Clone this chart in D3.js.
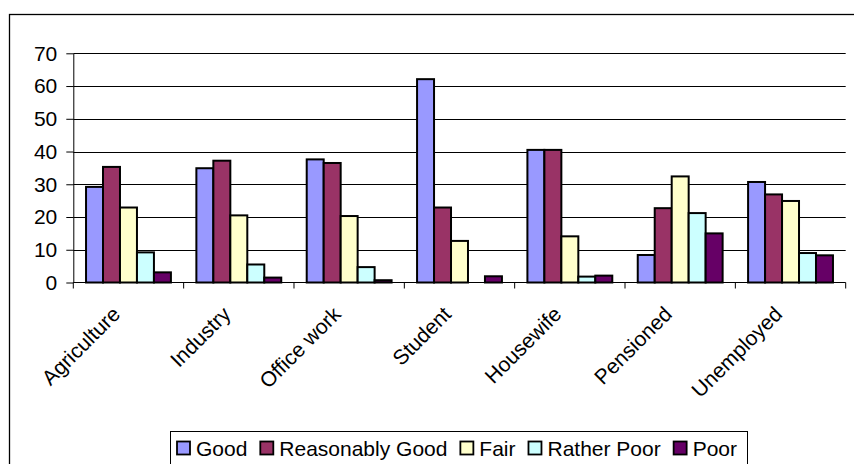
<!DOCTYPE html>
<html>
<head>
<meta charset="utf-8">
<script src="https://cdn.jsdelivr.net/npm/d3@7"></script>
<style>
  html, body { margin: 0; padding: 0; background: #fff; }
  svg { display: block; }
  text { font-family: "Liberation Sans", Arial, sans-serif; fill: #000; }
</style>
</head>
<body>
<svg id="chart" width="854" height="464"></svg>
<script>
// Self-rated condition by occupation (%)
const categories = ["Agriculture", "Industry", "Office work", "Student", "Housewife", "Pensioned", "Unemployed"];
const seriesNames = ["Good", "Reasonably Good", "Fair", "Rather Poor", "Poor"];
const good           = [29.2, 34.9, 37.6, 62.1, 40.5,  8.4, 30.7];
const reasonablyGood = [35.3, 37.2, 36.5, 22.9, 40.5, 22.7, 26.9];
const fair           = [22.9, 20.5, 20.3, 12.7, 14.1, 32.4, 24.9];
const ratherPoor     = [ 9.2,  5.5,  4.7,  0.0,  1.8, 21.2,  9.0];
const poor           = [ 3.1,  1.5,  0.7,  1.9,  2.1, 15.0,  8.3];
const yTicks = [0, 10, 20, 30, 40, 50, 60, 70];

const seriesValues = [good, reasonablyGood, fair, ratherPoor, poor];
const colors = ["#9999FF", "#993366", "#FFFFCC", "#CCFFFF", "#660066"];

const svg = d3.select("#chart");
const FONT = 21;

// outer chart frame
svg.append("rect")
  .attr("x", 9.5).attr("y", 14.5)
  .attr("width", 860).attr("height", 470)
  .attr("fill", "none").attr("stroke", "#000").attr("stroke-width", 1.3);

const plot = { left: 73.3, right: 845.7, top: 53.3, bottom: 282.5 };

const x = d3.scaleBand().domain(categories).range([plot.left, plot.right]).padding(0);
const bw = x.bandwidth() / (seriesNames.length + 1.5);
const xs = d3.scaleBand().domain(seriesNames)
  .range([bw * 0.75, bw * 0.75 + bw * seriesNames.length]).padding(0);
const y = d3.scaleLinear().domain([0, 70]).range([plot.bottom, plot.top]);

// horizontal gridlines
svg.append("g").selectAll("line").data(yTicks.filter(d => d > 0)).join("line")
  .attr("x1", plot.left).attr("x2", plot.right)
  .attr("y1", d => Math.round(y(d)) + 0.5).attr("y2", d => Math.round(y(d)) + 0.5)
  .attr("stroke", "#000").attr("stroke-width", 1);

// y axis
const yAxis = svg.append("g")
  .attr("transform", `translate(${plot.left},0)`)
  .call(d3.axisLeft(y).tickValues(yTicks).tickSize(7).tickPadding(9).tickSizeOuter(0));
yAxis.select(".domain").attr("stroke", "#000").attr("stroke-width", 1);
yAxis.selectAll(".tick line").attr("stroke", "#000");
yAxis.selectAll(".tick text")
  .style("font-family", '"Liberation Sans", Arial, sans-serif')
  .style("font-size", FONT + "px").attr("fill", "#000");

// bars
const groups = svg.append("g").selectAll("g").data(categories).join("g")
  .attr("transform", c => `translate(${x(c)},0)`);
groups.selectAll("rect")
  .data((c, i) => seriesNames.map((s, j) => ({ s, j, v: seriesValues[j][i] })).filter(d => d.v > 0))
  .join("rect")
  .attr("x", d => xs(d.s))
  .attr("width", xs.bandwidth())
  .attr("y", d => y(d.v))
  .attr("height", d => y(0) - y(d.v))
  .attr("fill", d => colors[d.j])
  .attr("stroke", "#000").attr("stroke-width", 2);

// x axis with ticks between categories
const xAxisG = svg.append("g").attr("transform", `translate(0,${plot.bottom})`);
xAxisG.append("line")
  .attr("x1", plot.left).attr("x2", plot.right)
  .attr("stroke", "#000").attr("stroke-width", 1);
const boundaries = categories.map(c => x(c)).concat([plot.right]);
xAxisG.selectAll("line.tk").data(boundaries).join("line").attr("class", "tk")
  .attr("x1", d => d).attr("x2", d => d).attr("y1", 0).attr("y2", 6)
  .attr("stroke", "#000").attr("stroke-width", 1);

// rotated category labels
svg.append("g").selectAll("text").data(categories).join("text")
  .attr("transform", c => `translate(${x(c) + x.bandwidth() / 2 - 7},${plot.bottom + 33}) rotate(-45)`)
  .attr("text-anchor", "end")
  .style("font-size", FONT + "px")
  .text(c => c);

// legend
const legend = svg.append("g");
legend.append("rect")
  .attr("x", 170.5).attr("y", 431.5).attr("width", 577).attr("height", 50)
  .attr("fill", "#fff").attr("stroke", "#000").attr("stroke-width", 1);
const items = legend.selectAll("g.item").data(seriesNames).join("g").attr("class", "item");
items.append("rect")
  .attr("x", 0).attr("y", 441.5).attr("width", 13).attr("height", 13)
  .attr("fill", (d, i) => colors[i]).attr("stroke", "#000").attr("stroke-width", 1.8);
items.append("text")
  .attr("x", 19).attr("y", 455.5)
  .style("font-size", FONT + "px")
  .text(d => d);
const widths = [];
items.each(function () { widths.push(this.querySelector("text").getComputedTextLength() + 19); });
const startX = 177, endX = 737;
const gap = (endX - startX - d3.sum(widths)) / (widths.length - 1);
let cursor = startX;
items.attr("transform", (d, i) => {
  const t = `translate(${cursor},0)`;
  cursor += widths[i] + gap;
  return t;
});
</script>
</body>
</html>
